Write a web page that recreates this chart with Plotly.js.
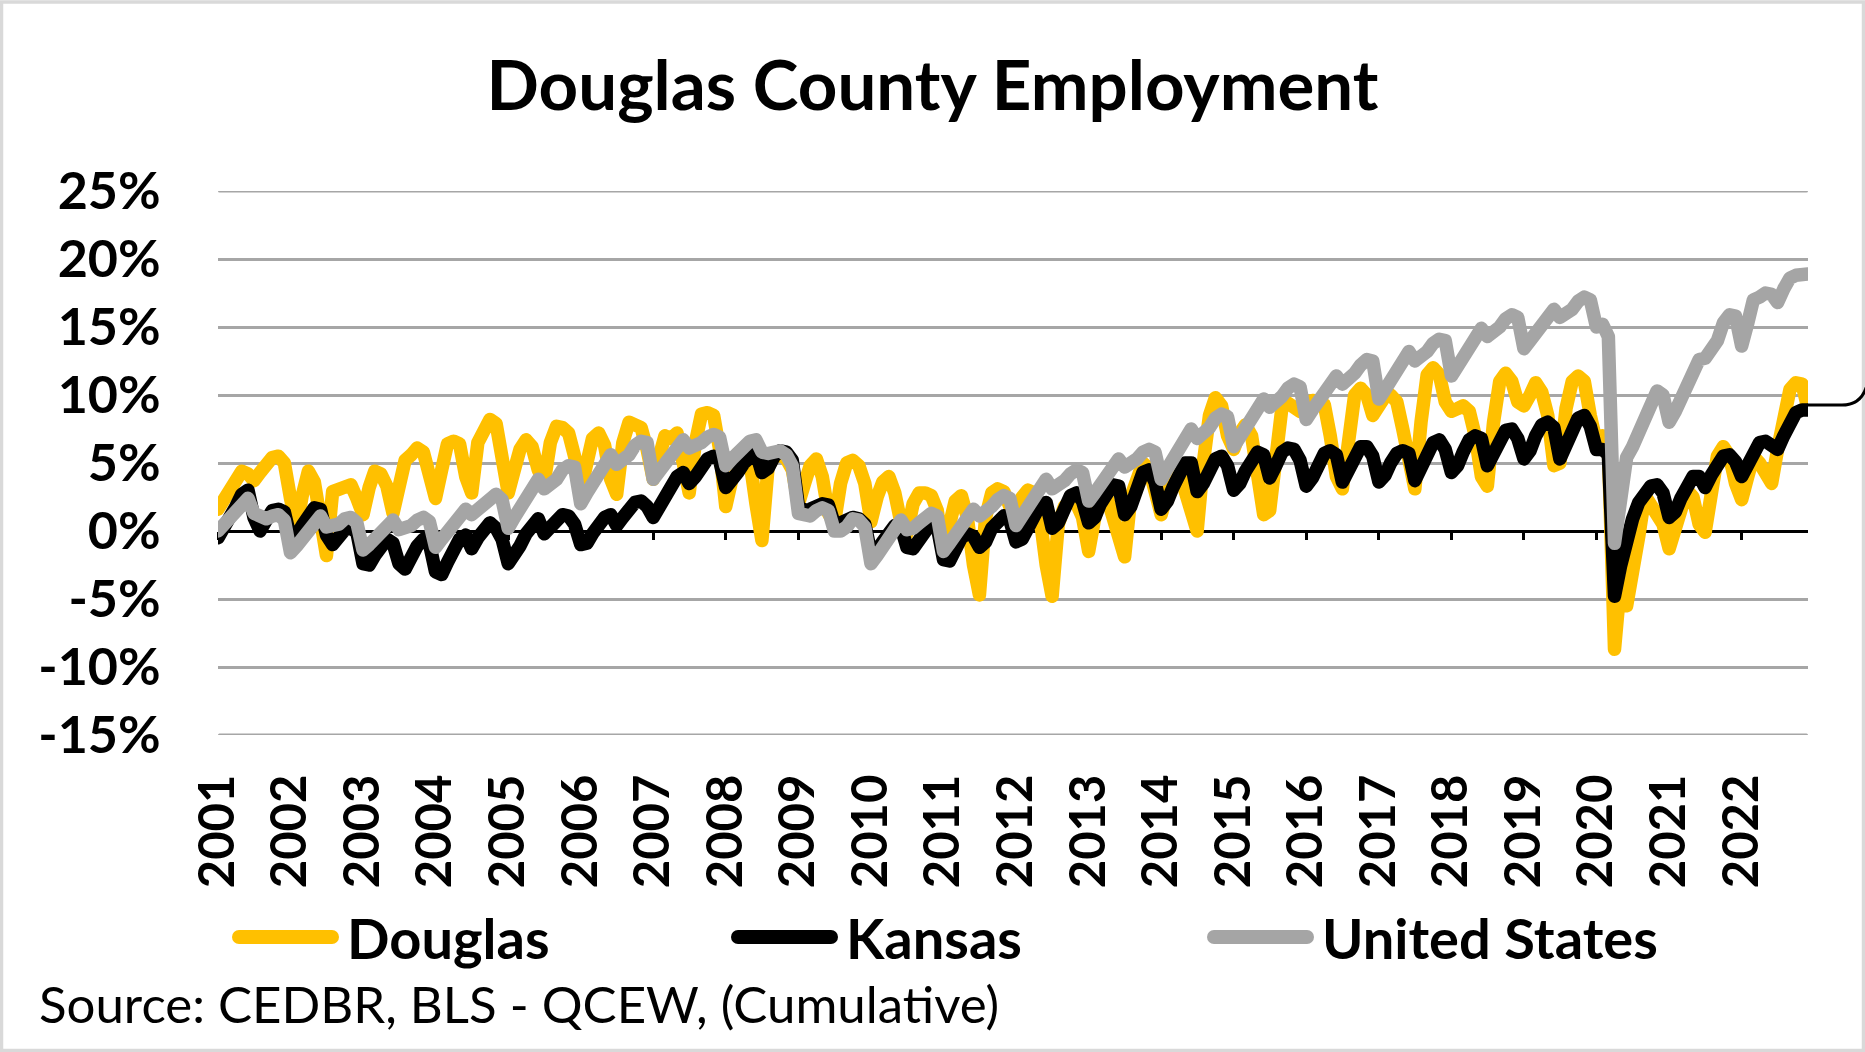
<!DOCTYPE html>
<html>
<head>
<meta charset="utf-8">
<script src="https://cdn.plot.ly/plotly-3.0.1.min.js"></script>
<style>
html,body{margin:0;padding:0;background:#fff;}
#chart{width:1865px;height:1052px;}
#chart .scatterlayer .js-line{stroke-linejoin:round !important;stroke-linecap:round !important;}
#chart .shapelayer path{stroke-linecap:round;}
</style>
</head>
<body>
<div id="chart"></div>
<script>
// ---- Data (cumulative % change in employment, monthly Jan 2001 - Dec 2022) ----
const years = [2001,2002,2003,2004,2005,2006,2007,2008,2009,2010,2011,2012,2013,2014,2015,2016,2017,2018,2019,2020,2021,2022];
const seriesNames = ['Douglas','Kansas','United States'];
const seriesColors = ['#FFC000','#000000','#A5A5A5'];
const yTickVals = [-15,-10,-5,0,5,10,15,20,25];
const yTickText = ['-15%','-10%','-5%','0%','5%','10%','15%','20%','25%'];
const titleText = 'Douglas County Employment';
const sourceText = 'Source: CEDBR, BLS - QCEW, (Cumulative)';

const douglas = [
 1.6, 2.4, 3.2, 3.9, 4.4, 4.2, 3.7, 4.3, 5.0, 5.4, 5.5, 5.0,   // 2001
 2.4, 0.3, 2.6, 4.4, 3.6, 1.2,-1.8, 2.9, 3.0, 3.3, 3.4, 2.4,   // 2002
 1.2, 3.2, 4.4, 4.2, 3.3, 1.3, 2.8, 5.2, 5.6, 6.1, 5.8, 4.5,   // 2003
 2.4, 4.5, 6.4, 6.6, 6.4, 4.0, 2.8, 6.5, 7.6, 8.2, 7.9, 5.5,   // 2004
 2.8, 4.5, 6.0, 6.7, 6.2, 4.5, 3.6, 6.5, 7.7, 7.6, 7.2, 5.5,   // 2005
 3.0, 5.0, 6.8, 7.2, 6.3, 3.8, 2.7, 6.5, 8.0, 7.8, 7.6, 6.0,   // 2006
 3.8, 5.5, 7.0, 6.8, 7.2, 5.0, 2.8, 6.5, 8.6, 8.7, 8.5, 6.0,   // 2007
 1.8, 3.8, 5.7, 5.5, 5.2, 2.0,-0.7, 4.7, 5.5, 5.6, 5.3, 4.5,   // 2008
 2.0, 3.5, 4.8, 5.3, 4.0, 1.3, 0.6, 3.5, 5.0, 5.2, 4.8, 3.5,   // 2009
 0.7, 2.5, 3.6, 4.0, 2.8, 0.6,-0.2, 2.0, 2.8, 2.8, 2.6, 1.5,   // 2010
-1.8, 0.5, 2.2, 2.6, 1.0,-2.5,-4.7, 1.0, 2.8, 3.1, 2.9, 1.8,   // 2011
 1.5, 2.5, 3.0, 2.8, 1.0,-2.5,-4.8, 0.5, 1.8, 2.2, 2.0, 1.0,   // 2012
-1.5, 1.0, 2.4, 2.6, 1.2,-0.5,-1.9, 2.5, 4.2, 5.0, 4.6, 3.0,   // 2013
 1.2, 2.8, 4.0, 4.4, 3.0, 1.0, 0.0, 5.0, 8.5, 9.8, 9.2, 7.0,   // 2014
 6.0, 7.2, 7.8, 7.0, 4.5, 1.2, 1.5, 6.2, 9.1, 9.4, 9.2, 8.8,   // 2015
 9.0, 9.6, 9.5, 9.3, 7.0, 4.0, 3.1, 7.5,10.0,10.5,10.0, 8.5,   // 2016
 9.2, 9.9,10.0, 9.5, 7.5, 4.5, 3.1, 8.0,11.5,12.0,11.5, 9.5,   // 2017
 8.8, 9.0, 9.2, 8.8, 7.0, 4.0, 3.3, 8.0,11.0,11.6,11.0, 9.5,   // 2018
 9.2,10.0,10.9,10.2, 8.5, 4.8, 5.0, 9.0,11.0,11.4,11.0, 8.5,   // 2019
 6.5, 7.0, 6.0,-8.7,-3.8,-5.5,-3.5,-0.4, 2.6, 2.0, 1.0, 0.5,   // 2020
-1.3, 0.0, 1.5, 3.0, 2.5, 0.5,-0.1, 3.0, 5.5, 6.2, 5.5, 3.5,   // 2021
 2.3, 4.0, 5.5, 5.0, 4.0, 3.5, 6.0, 8.0,10.4,10.9,10.8, 9.0    // 2022
];

const kansas = [
-0.5, 0.2, 0.9, 1.8, 2.7, 3.0, 1.0, 0.0, 0.8, 1.5, 1.6, 1.4,   // 2001
-0.5,-0.3, 0.4, 1.1, 1.7, 1.6,-0.3,-1.0,-0.4, 0.1, 0.2,-0.1,   // 2002
-2.4,-2.5,-1.8,-1.0,-0.6,-0.9,-2.4,-2.8,-1.8,-1.1,-0.6,-0.9,   // 2003
-3.0,-3.2,-2.3,-1.3,-0.6,-0.3,-1.3,-0.5, 0.3, 0.6, 0.2,-0.6,   // 2004
-2.4,-1.9,-1.1,-0.2, 0.4, 0.9,-0.2, 0.3, 0.9, 1.2, 1.1, 0.5,   // 2005
-1.0,-0.9,-0.2, 0.5, 1.0, 1.2, 0.4, 1.0, 1.6, 2.1, 2.2, 1.8,   // 2006
 1.0, 1.8, 2.7, 3.4, 4.0, 4.3, 3.5, 4.0, 4.8, 5.3, 5.5, 5.2,   // 2007
 3.2, 3.6, 4.3, 5.0, 5.5, 5.8, 4.3, 4.6, 5.5, 5.9, 5.8, 5.2,   // 2008
 1.8, 1.5, 1.6, 1.9, 2.0, 1.9, 0.5, 0.6, 0.9, 1.0, 0.9, 0.5,   // 2009
-1.6,-1.4,-0.8, 0.0, 0.4, 0.3,-1.2,-1.3,-0.5, 0.2, 0.6, 0.3,   // 2010
-2.1,-2.2,-1.4,-0.5,-0.2,-0.4,-1.2,-0.8, 0.2, 0.8, 1.1, 0.8,   // 2011
-0.8,-0.6, 0.3, 1.2, 1.9, 2.1, 0.2, 0.6, 1.8, 2.6, 2.8, 2.2,   // 2012
 0.6, 1.0, 2.0, 3.0, 3.4, 3.3, 1.2, 1.8, 3.3, 4.3, 4.5, 3.6,   // 2013
 1.6, 2.2, 3.2, 4.3, 5.0, 5.0, 2.9, 3.5, 4.6, 5.3, 5.5, 4.8,   // 2014
 3.0, 3.5, 4.4, 5.4, 5.8, 5.6, 3.9, 4.8, 5.8, 6.1, 6.0, 5.2,   // 2015
 3.3, 3.9, 4.9, 5.7, 5.9, 5.6, 3.6, 4.6, 5.7, 6.2, 6.2, 5.5,   // 2016
 3.6, 4.1, 5.0, 5.7, 5.9, 5.7, 3.7, 4.7, 5.8, 6.5, 6.7, 6.0,   // 2017
 4.3, 4.8, 5.8, 6.7, 7.0, 6.8, 4.8, 5.7, 6.8, 7.4, 7.5, 6.8,   // 2018
 5.3, 5.9, 7.0, 7.8, 8.0, 7.6, 5.3, 6.3, 7.5, 8.3, 8.5, 7.7,   // 2019
 6.0, 6.0, 5.6,-4.8,-2.6,-0.6, 0.9, 2.1, 2.8, 3.3, 3.4, 2.8,   // 2020
 1.0, 1.4, 2.4, 3.4, 4.0, 4.0, 3.2, 4.1, 4.9, 5.5, 5.6, 5.1,   // 2021
 4.0, 4.8, 5.8, 6.5, 6.6, 6.2, 6.0, 7.0, 8.2, 8.7, 8.9, 8.9    // 2022
];

const unitedStates = [
 0.0, 0.5, 0.9, 1.5, 2.1, 2.4, 1.3, 1.0, 0.9, 1.1, 1.2, 0.8,   // 2001
-1.6,-1.1,-0.5, 0.2, 0.8, 1.1, 0.3, 0.3, 0.5, 0.9, 1.0, 0.6,   // 2002
-1.4,-1.0,-0.5, 0.1, 0.6, 0.8, 0.1, 0.2, 0.4, 0.8, 1.0, 0.7,   // 2003
-1.2,-0.6,-0.1, 0.6, 1.2, 1.6, 1.2, 1.6, 1.9, 2.5, 2.7, 2.3,   // 2004
 0.2, 1.0, 1.6, 2.5, 3.3, 3.8, 3.1, 3.4, 3.8, 4.5, 4.8, 4.7,   // 2005
 2.0, 2.8, 3.4, 4.3, 5.1, 5.6, 4.9, 5.2, 5.6, 6.3, 6.6, 6.5,   // 2006
 3.8, 4.4, 4.9, 5.6, 6.3, 6.7, 6.1, 6.2, 6.5, 6.9, 7.1, 6.9,   // 2007
 4.8, 5.3, 5.7, 6.2, 6.6, 6.7, 5.8, 5.7, 5.8, 5.9, 5.6, 4.8,   // 2008
 1.3, 1.2, 1.1, 1.5, 1.7, 1.5, 0.0, 0.0, 0.3, 0.9, 0.8, 0.3,   // 2009
-2.4,-1.8,-1.1,-0.3, 0.5, 0.8, 0.1, 0.2, 0.6, 1.1, 1.3, 1.1,   // 2010
-1.5,-0.9,-0.3, 0.5, 1.2, 1.6, 1.1, 1.4, 1.8, 2.3, 2.6, 2.4,   // 2011
 0.4, 1.1, 1.7, 2.5, 3.3, 3.8, 3.1, 3.3, 3.7, 4.2, 4.5, 4.3,   // 2012
 2.2, 2.8, 3.4, 4.2, 4.9, 5.3, 4.7, 4.9, 5.3, 5.8, 6.0, 5.8,   // 2013
 3.8, 4.6, 5.3, 6.2, 7.0, 7.5, 6.8, 7.1, 7.6, 8.3, 8.6, 8.4,   // 2014
 6.2, 6.9, 7.5, 8.4, 9.2, 9.7, 9.1, 9.4, 9.9,10.5,10.8,10.6,   // 2015
 8.2, 8.9, 9.5,10.3,11.0,11.4,10.8,11.1,11.6,12.2,12.6,12.5,   // 2016
 9.7,10.4,11.1,11.9,12.7,13.2,12.5,12.8,13.2,13.8,14.1,14.0,   // 2017
11.4,12.1,12.8,13.6,14.4,14.9,14.3,14.6,15.0,15.6,15.9,15.7,   // 2018
13.4,14.0,14.5,15.2,15.9,16.3,15.7,15.9,16.3,16.9,17.2,17.0,   // 2019
15.0,15.2,14.3,-0.9, 1.8, 5.4, 6.2, 7.4, 8.3, 9.6,10.3,10.0,   // 2020
 8.0, 8.8, 9.7,11.2,11.9,12.6,12.7,13.3,14.0,15.3,15.9,15.8,   // 2021
13.6,15.3,17.0,17.2,17.5,17.4,16.8,17.8,18.6,18.8,18.9,18.9    // 2022
];

// ---- Monthly category dates built from the years list ----
const months = [];
years.forEach(function(y){
  for (let m = 1; m <= 12; m++) months.push(y + '-' + String(m).padStart(2,'0') + '-01');
});
const yearTickVals = years.map(function(y){ return y + '-01-01'; });
const yearTickText = years.map(String);
const xRange = [months[0], months[months.length-1]];
const yRange = [-15, 25];
const GRID = '#A6A6A6';

// ---- Geometry helpers (page pixels -> paper fractions) ----
const W = 1865, H = 1052;
const M = {l: 218, r: 57, t: 191, b: 317};
const PW = W - M.l - M.r, PH = H - M.t - M.b;
function px(x){ return (x - M.l) / PW; }
function py(y){ return (H - M.b - y) / PH; }

const FONT = 'Lato, "Open Sans", sans-serif';
const valuesList = [douglas, kansas, unitedStates];

const traces = valuesList.map(function(vals, i){
  return {
    type: 'scatter', mode: 'lines', name: seriesNames[i],
    x: months, y: vals,
    line: {color: seriesColors[i], width: 13.5, shape: 'linear'},
    hoverinfo: 'skip', showlegend: false
  };
});
// carrier for the secondary x-axis that draws tick marks on the 0% line
traces.push({type: 'scatter', mode: 'lines', x: [months[0]], y: [null], xaxis: 'x2', yaxis: 'y',
  hoverinfo: 'skip', showlegend: false, line: {width: 0}});

const shapes = [];
const annotations = [];

// gridlines at the range edges (Plotly skips grid lines that sit on the plot edge)
[yRange[0], yRange[1]].forEach(function(v){
  shapes.push({type: 'line', xref: 'paper', yref: 'y', layer: 'below',
    x0: px(219.5), x1: px(1806.5), y0: v, y1: v, line: {color: GRID, width: 3}});
});

// ---- Custom legend (long thick samples with rounded ends) ----
const legendY = py(937);
const legendItems = [
  {x0: 239, x1: 332, tx: 345},
  {x0: 738, x1: 831, tx: 844},
  {x0: 1214, x1: 1307, tx: 1320}
];
legendItems.forEach(function(it, i){
  shapes.push({type: 'line', xref: 'paper', yref: 'paper',
    x0: px(it.x0), x1: px(it.x1), y0: legendY, y1: legendY,
    line: {color: seriesColors[i], width: 14}});
  annotations.push({xref: 'paper', yref: 'paper', x: px(it.tx), y: legendY,
    xanchor: 'left', yanchor: 'middle', showarrow: false,
    text: seriesNames[i], font: {family: FONT, size: 56, weight: 700, color: '#000'}});
});
annotations.push({xref: 'paper', yref: 'paper', x: px(37), y: py(1003),
  xanchor: 'left', yanchor: 'middle', showarrow: false,
  text: sourceText, font: {family: FONT, size: 51, color: '#000'}});

// chart frame
shapes.push({type: 'rect', xref: 'paper', yref: 'paper', layer: 'above',
  x0: px(1.5), x1: px(1863.5), y0: py(1050.5), y1: py(2),
  line: {color: '#D9D9D9', width: 3.5}, fillcolor: 'rgba(0,0,0,0)'});
// small connector at the right edge
shapes.push({type: 'path', xref: 'paper', yref: 'paper', layer: 'above',
  path: 'M ' + px(1808) + ' ' + py(405) + ' L ' + px(1842) + ' ' + py(405) +
        ' Q ' + px(1860) + ' ' + py(405) + ' ' + px(1866) + ' ' + py(388),
  line: {color: '#000', width: 3}});

const layout = {
  width: W, height: H,
  margin: M,
  paper_bgcolor: '#ffffff', plot_bgcolor: '#ffffff',
  font: {family: FONT, color: '#000'},
  showlegend: false,
  title: {text: titleText, x: 0.5, xref: 'container', xanchor: 'center',
          y: 1 - 86 / H, yref: 'container', yanchor: 'middle',
          font: {family: FONT, size: 69, weight: 700, color: '#000'}},
  xaxis: {
    type: 'date', range: xRange,
    tickmode: 'array', tickvals: yearTickVals, ticktext: yearTickText,
    tickangle: -90, tickfont: {family: FONT, size: 49, weight: 700, color: '#000'},
    ticks: 'outside', ticklen: 19, tickcolor: 'rgba(0,0,0,0)',
    showgrid: false, zeroline: false, showline: false, fixedrange: true
  },
  xaxis2: {
    type: 'date', range: xRange, overlaying: 'x', anchor: 'free',
    position: (0 - yRange[0]) / (yRange[1] - yRange[0]), side: 'bottom',
    tickmode: 'array', tickvals: yearTickVals, showticklabels: false,
    ticks: 'outside', ticklen: 8, tickwidth: 3, tickcolor: '#000',
    showgrid: false, zeroline: false, showline: false, layer: 'below traces', fixedrange: true
  },
  yaxis: {
    range: yRange, tickmode: 'array', tickvals: yTickVals, ticktext: yTickText,
    tickfont: {family: FONT, size: 52, weight: 700, color: '#000'},
    ticks: 'outside', ticklen: 46, tickcolor: 'rgba(0,0,0,0)',
    showgrid: true, gridcolor: GRID, gridwidth: 3,
    zeroline: true, zerolinecolor: '#000000', zerolinewidth: 3,
    showline: false, fixedrange: true
  },
  shapes: shapes,
  annotations: annotations
};

Plotly.newPlot('chart', traces, layout, {displayModeBar: false, staticPlot: true});
</script>
</body>
</html>
